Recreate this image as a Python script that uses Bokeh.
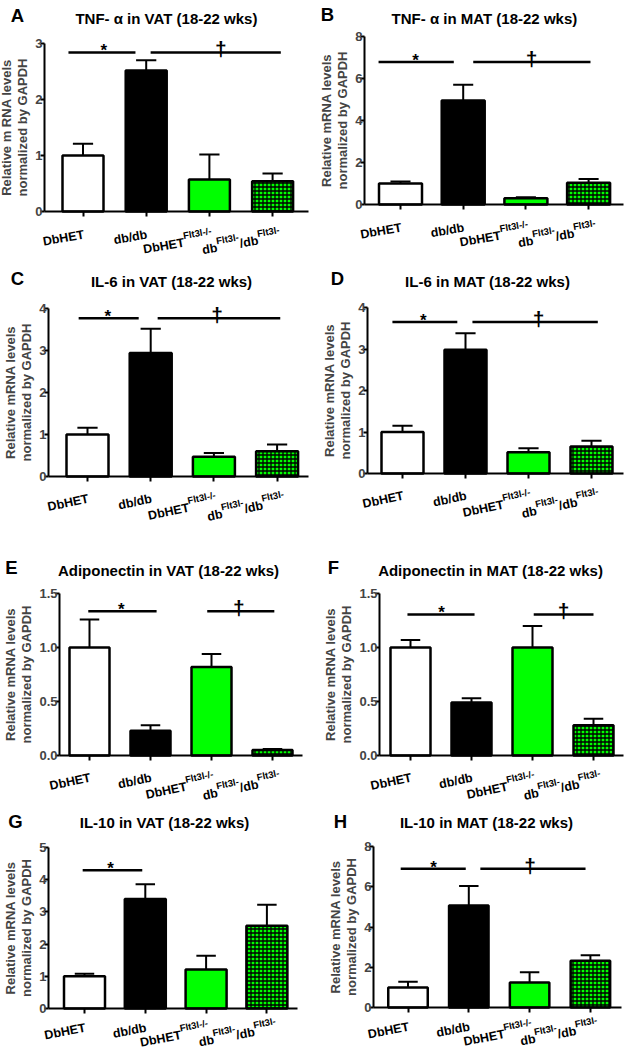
import math
from bokeh.plotting import figure
from bokeh.layouts import column, row
from bokeh.models import Label, FixedTicker, NumeralTickFormatter, Range1d, ColumnDataSource
from bokeh.embed import file_html
from bokeh.resources import INLINE

# ---------------- data ----------------
categories = ["DbHET", "db/db", "DbHET Flt3l-/-", "db Flt3l-/db Flt3l-"]
# tick label pieces: (text, is_superscript)
tick_pieces = [
    [("DbHET", 0)],
    [("db/db", 0)],
    [("DbHET", 0), ("Flt3l-/-", 1)],
    [("db", 0), ("Flt3l-", 1), ("/db", 0), ("Flt3l-", 1)],
]
fill_colors = ["#ffffff", "#000000", "#00ff00", "#00ff00"]
hatches = [" ", " ", " ", "cross"]

tnf_vat_mean = [1.00, 2.52, 0.57, 0.54]
tnf_vat_sem = [0.21, 0.18, 0.45, 0.14]
tnf_mat_mean = [1.00, 4.95, 0.30, 1.03]
tnf_mat_sem = [0.10, 0.75, 0.05, 0.19]
il6_vat_mean = [1.00, 2.94, 0.47, 0.60]
il6_vat_sem = [0.16, 0.58, 0.09, 0.16]
il6_mat_mean = [1.00, 2.98, 0.51, 0.65]
il6_mat_sem = [0.15, 0.40, 0.10, 0.14]
adipo_vat_mean = [1.00, 0.23, 0.82, 0.05]
adipo_vat_sem = [0.26, 0.05, 0.12, 0.01]
adipo_mat_mean = [1.00, 0.49, 1.00, 0.28]
adipo_mat_sem = [0.07, 0.04, 0.20, 0.06]
il10_vat_mean = [1.00, 3.40, 1.21, 2.57]
il10_vat_sem = [0.08, 0.46, 0.43, 0.65]
il10_mat_mean = [1.00, 5.07, 1.24, 2.32]
il10_mat_sem = [0.28, 0.97, 0.51, 0.28]

titles = ["TNF- \u03b1  in VAT (18-22 wks)", "TNF- \u03b1  in MAT (18-22 wks)",
          "IL-6 in VAT (18-22 wks)", "IL-6 in MAT (18-22 wks)",
          "Adiponectin in VAT (18-22 wks)", "Adiponectin in MAT (18-22 wks)",
          "IL-10 in VAT (18-22 wks)", "IL-10 in MAT (18-22 wks)"]
letters = ["A", "B", "C", "D", "E", "F", "G", "H"]
ylabels = ["Relative m RNA levels\nnormalized by GAPDH"] + ["Relative mRNA levels\nnormalized by GAPDH"] * 7
y_ticks = [[0, 1, 2, 3], [0, 2, 4, 6, 8], [0, 1, 2, 3, 4], [0, 1, 2, 3, 4],
           [0, 0.5, 1.0, 1.5], [0, 0.5, 1.0, 1.5], [0, 1, 2, 3, 4, 5], [0, 2, 4, 6, 8]]
# significance bars: (x_start, x_end, y, symbol, symbol_x) in index/data units
sig_bars = [
    [(-0.23, 0.83, 2.84, "*", 0.33), (1.07, 3.13, 2.84, "\u2020", 2.18)],
    [(-0.35, 0.85, 6.78, "*", 0.24), (1.16, 3.03, 6.78, "\u2020", 2.09)],
    [(-0.14, 0.81, 3.77, "*", 0.32), (1.11, 3.05, 3.77, "\u2020", 2.05)],
    [(-0.16, 0.87, 3.65, "*", 0.33), (1.11, 3.10, 3.65, "\u2020", 2.16)],
    [(-0.02, 1.10, 1.336, "*", 0.52), (1.93, 3.03, 1.336, "\u2020", 2.45)],
    [(-0.05, 1.05, 1.306, "*", 0.51), (2.02, 3.00, 1.306, "\u2020", 2.51)],
    [(-0.03, 0.95, 4.29, "*", 0.43)],
    [(-0.12, 0.95, 6.90, "*", 0.42), (1.19, 2.92, 6.90, "\u2020", 2.01)],
]
means = [tnf_vat_mean, tnf_mat_mean, il6_vat_mean, il6_mat_mean,
         adipo_vat_mean, adipo_mat_mean, il10_vat_mean, il10_mat_mean]
sems = [tnf_vat_sem, tnf_mat_sem, il6_vat_sem, il6_mat_sem,
        adipo_vat_sem, adipo_mat_sem, il10_vat_sem, il10_mat_sem]

# ---------------- layout (reference pixel geometry) ----------------
FONT = "Liberation Sans"
cols = [(0, 310), (310, 625)]
rows_ = [(0, 268), (268, 535), (535, 806), (806, 1050)]

geoms = [
    dict(ax=44, rx=308, zy=211, ty=43, c0=82.5, d=63.2, bw=41, tt=(168, 18), lt=(17, 15), ang=10, off=23,
         drop=[0, 0, 3, 2], shift=[1, 1, 3, 8]),
    dict(ax=364, rx=623, zy=204, ty=36, c0=400, d=62.7, bw=43, tt=(486, 18), lt=(327, 14), ang=10, off=23,
         drop=[0, 0, 3, 2], shift=[1, 1, 3, 8]),
    dict(ax=48, rx=308, zy=476, ty=308, c0=87, d=63.2, bw=42, tt=(171, 281), lt=(17, 278), ang=12, off=22,
         drop=[0, 0, 3, 2], shift=[1, 1, 3, 8]),
    dict(ax=367, rx=623, zy=473, ty=307, c0=402, d=63, bw=42, tt=(487, 281), lt=(337, 278), ang=12, off=22,
         drop=[0, 0, 3, 2], shift=[1, 1, 3, 8]),
    dict(ax=59, rx=302, zy=755, ty=593, c0=89, d=61, bw=40, tt=(168, 570), lt=(11, 567), ang=12, off=22,
         drop=[0, 0, 3, 2], shift=[1, 1, 3, 8]),
    dict(ax=379, rx=623, zy=755, ty=593, c0=410, d=61, bw=40, tt=(490, 570), lt=(333, 567), ang=12, off=22,
         drop=[0, 0, 3, 2], shift=[1, 1, 3, 8]),
    dict(ax=48, rx=297, zy=1008, ty=847, c0=84, d=60.8, bw=41, tt=(164, 822), lt=(15, 821), ang=11, off=19,
         drop=[0, 0, 2, 0], shift=[1, 1, 3, 10]),
    dict(ax=373, rx=621, zy=1007, ty=846, c0=407.5, d=60.8, bw=39.5, tt=(486, 822), lt=(340, 821), ang=11, off=19,
         drop=[0, 0, 2, 0], shift=[1, 1, 3, 8]),
]

CW = {'D': 722, 'b': 611, 'H': 722, 'E': 667, 'T': 611, 'd': 611, '/': 278, 'F': 611,
      'l': 278, 't': 333, '3': 556, '-': 333}


def tw(s, size):
    return sum(CW.get(ch, 556) for ch in s) * size / 1000.0


def lab(p, x, y, text, size, angle=0.0, align="left", baseline="alphabetic"):
    p.add_layout(Label(x=x, y=y, text=text, text_font=FONT, text_font_size=f"{size}px",
                       text_font_style="bold", text_color="black", angle=angle,
                       text_align=align, text_baseline=baseline))


def make_panel(k):
    g = geoms[k]
    ci, ri = k % 2, k // 2
    x0, x1 = cols[ci]
    y0, y1 = rows_[ri]
    W, H = x1 - x0, y1 - y0
    top_val = y_ticks[k][-1]

    def X(px):
        return (px - g["c0"]) / g["d"]

    def Y(py):
        return top_val * (g["zy"] - py) / (g["zy"] - g["ty"])

    ppx = g["d"]
    ppy = (g["zy"] - g["ty"]) / top_val

    p = figure(width=W, height=H, output_backend="svg", toolbar_location=None,
               x_range=Range1d(X(x0), X(x1)), y_range=Range1d(Y(y1), Y(y0)),
               min_border_left=0, min_border_right=0, min_border_top=0, min_border_bottom=0)
    p.outline_line_color = None
    p.xgrid.visible = False
    p.ygrid.visible = False
    p.background_fill_color = "white"
    p.border_fill_color = "white"

    xs = list(range(len(categories)))
    ups = [m + s for m, s in zip(means[k], sems[k])]
    src = ColumnDataSource(dict(x=xs, top=means[k], fill=fill_colors, hatch=hatches, up=ups))
    bw = g["bw"] / g["d"]
    p.vbar(x="x", top="top", bottom=0, width=bw, source=src, fill_color="fill",
           line_color="black", line_width=2.5, hatch_pattern="hatch", hatch_color="black",
           hatch_scale=4, hatch_weight=1.3)
    cap = 0.16
    p.segment(x0="x", y0="top", x1="x", y1="up", source=src, line_color="black", line_width=2)
    src2 = ColumnDataSource(dict(a=[x - cap for x in xs], b=[x + cap for x in xs], up=ups))
    p.segment(x0="a", y0="up", x1="b", y1="up", source=src2, line_color="black", line_width=2)

    # significance
    for (sa, sb, sy_, sym, symx) in sig_bars[k]:
        p.segment(x0=[sa], y0=[sy_], x1=[sb], y1=[sy_], line_color="black", line_width=2.5)
        if sym == "*":
            lab(p, symx, sy_ + 1.5 / ppy, sym, 17, align="center")
        else:
            lab(p, symx, sy_ + 3.5 / ppy, sym, 21, align="center")

    # axes (drawn at fixed data locations inside the full-canvas frame)
    ya = p.yaxis[0]
    ya.fixed_location = X(g["ax"])
    ya.ticker = FixedTicker(ticks=y_ticks[k])
    ya.bounds = (0, top_val)
    if top_val == 1.5:
        ya.formatter = NumeralTickFormatter(format="0.0")
    ya.axis_label = ylabels[k]
    ya.axis_label_text_font = FONT
    ya.axis_label_text_font_style = "bold"
    ya.axis_label_text_font_size = "13px"
    ya.axis_label_text_line_height = 1.1
    ya.axis_label_standoff = 2
    ya.major_label_text_font = FONT
    ya.major_label_text_font_style = "bold"
    ya.major_label_text_font_size = "13px"
    ya.major_label_standoff = -2
    xa = p.xaxis[0]
    xa.fixed_location = 0
    xa.bounds = (X(g["ax"]), X(g["rx"]))
    xa.ticker = FixedTicker(ticks=xs)
    xa.major_label_overrides = {i: "" for i in xs}
    for ax in (ya, xa):
        ax.axis_line_width = 2
        ax.axis_line_color = "black"
        ax.major_tick_line_width = 2
        ax.major_tick_line_color = "black"
        ax.major_tick_out = 4
        ax.major_tick_in = 0
        ax.minor_tick_line_color = None
    xa.major_tick_out = 5

    # title and panel letter
    lab(p, X(g["tt"][0]), Y(g["tt"][1]), titles[k], 15, align="center", baseline="middle")
    lab(p, X(g["lt"][0]), Y(g["lt"][1]), letters[k], 18.5, align="center", baseline="middle")

    # rotated category labels with superscripts
    th = math.radians(g["ang"])
    c, s = math.cos(th), math.sin(th)
    for i, pieces in enumerate(tick_pieces):
        sizes = [9.5 if sup else 12.5 for (_, sup) in pieces]
        widths = [tw(t, sz) for (t, _), sz in zip(pieces, sizes)]
        total = sum(widths)
        off = g["off"] + g["drop"][i]
        sx0 = g["shift"][i] - total * c
        sy0 = -off - total * s
        cum = 0.0
        for (t, sup), w, sz in zip(pieces, widths, sizes):
            px = sx0 + cum * c
            py = sy0 + cum * s
            if sup:
                px += -7 * s
                py += 7 * c
            lab(p, i + px / ppx, py / ppy, t, sz, angle=th)
            cum += w
    return p


figs = [make_panel(k) for k in range(8)]
layout = column(row(figs[0], figs[1]), row(figs[2], figs[3]),
                row(figs[4], figs[5]), row(figs[6], figs[7]))

open("out.html", "w").write(file_html(layout, INLINE))
